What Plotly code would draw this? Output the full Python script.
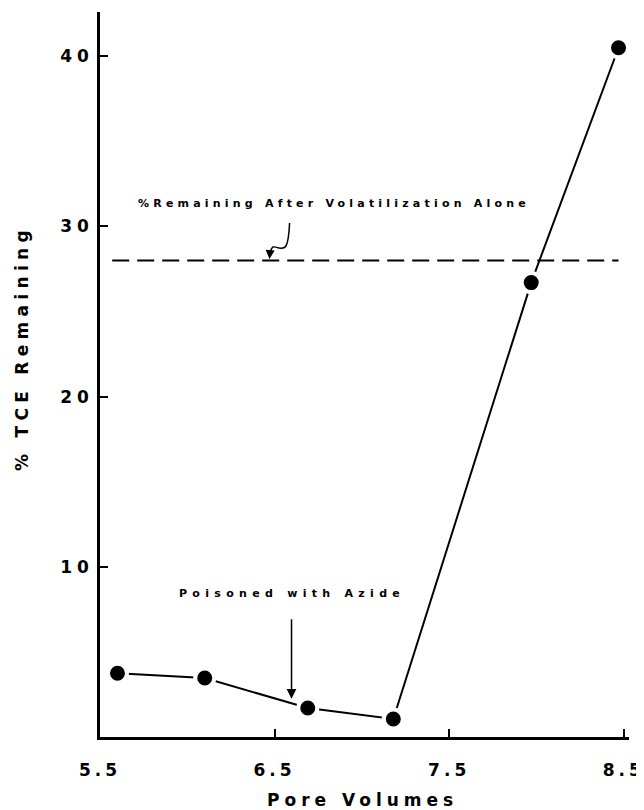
import plotly.graph_objects as go

# Data
pore_volumes = [5.6, 6.1, 6.69, 7.18, 7.97, 8.47]
tce_remaining = [3.75, 3.47, 1.7, 1.06, 26.7, 40.5]
volatilization_level = 28.0
volatilization_x = [5.57, 8.47]
x_ticks = [5.5, 6.5, 7.5, 8.5]
x_tick_labels = ["5.5", "6.5", "7.5", "8.5"]
y_ticks = [10, 20, 30, 40]
y_tick_labels = ["10", "20", "30", "40"]

FONT = "DejaVu Sans"


def spaced(s, px):
    return f'<span style="letter-spacing:{px}px">{s}</span>'


OFF = 8  # body margin of the page
W, H = 636, 802
L, R, T, B = 92, 15, 4, 73
PW, PH = W - L - R, H - T - B


def px_to_paper(px, py):
    return (px - OFF - L) / PW, (H - B - (py - OFF)) / PH


def label(px, py, text, size, angle=0):
    xp, yp = px_to_paper(px, py)
    fig.add_annotation(x=xp, y=yp, xref="paper", yref="paper", text=text,
                       xanchor="center", yanchor="middle", textangle=angle,
                       showarrow=False,
                       font=dict(family=FONT, size=size, color="black", weight="bold"))


fig = go.Figure()

fig.add_trace(go.Scatter(
    x=volatilization_x, y=[volatilization_level] * len(volatilization_x),
    mode="lines", line=dict(color="black", width=2, dash="17px,8px"),
    hoverinfo="skip", showlegend=False))

fig.add_trace(go.Scatter(
    x=pore_volumes, y=tce_remaining, mode="lines+markers",
    line=dict(color="black", width=2),
    marker=dict(size=19, color="black", line=dict(color="white", width=4)),
    showlegend=False))

# squiggle pointer to dashed line
fig.add_shape(type="path",
              path="M 6.586,30.2 C 6.583,29.6 6.580,29.1 6.565,28.85 C 6.55,28.6 6.52,28.75 6.50,28.8 "
                   "C 6.485,28.85 6.478,28.6 6.474,28.45",
              xref="x", yref="y", line=dict(color="black", width=1.5))
fig.add_annotation(x=6.471, y=28.08, ax=6.474, ay=28.55, xref="x", yref="y",
                   axref="x", ayref="y", showarrow=True, arrowhead=2,
                   arrowsize=1.2, arrowwidth=1.5, arrowcolor="black", text="")

label(334, 203, spaced("%Remaining After Volatilization Alone", 4.2), 11)

# Poisoned arrow
fig.add_annotation(x=6.597, y=2.25, ax=6.597, ay=7.0, xref="x", yref="y",
                   axref="x", ayref="y", showarrow=True, arrowhead=2,
                   arrowsize=1.3, arrowwidth=1.5, arrowcolor="black", text="")
label(292, 593, spaced("Poisoned with Azide", 5.3), 11)

# axis titles
label(22, 348, spaced("% TCE Remaining", 5.3), 17, angle=-90)
label(362, 800, spaced("Pore Volumes", 5), 17)

fig.update_layout(
    width=W, height=H,
    margin=dict(l=L, r=R, t=T, b=B),
    paper_bgcolor="white", plot_bgcolor="white",
    xaxis=dict(range=[5.5, 8.53], tickvals=x_ticks,
               ticktext=[spaced(t, 4) for t in x_tick_labels],
               showline=True, linecolor="black", linewidth=2.5, ticks="inside",
               ticklen=8, tickwidth=2, tickcolor="black", showgrid=False, zeroline=False,
               ticklabelstandoff=16, automargin=False, ticklabeloverflow="allow",
               tickfont=dict(family=FONT, size=17, color="black", weight="bold")),
    yaxis=dict(range=[0, 42.6], tickvals=y_ticks,
               ticktext=[spaced(t, 5) for t in y_tick_labels],
               showline=True, linecolor="black", linewidth=2.5, ticks="inside",
               ticklen=8, tickwidth=2, tickcolor="black", showgrid=False, zeroline=False,
               ticklabelstandoff=0, automargin=False, ticklabeloverflow="allow",
               tickfont=dict(family=FONT, size=17, color="black", weight="bold")),
)

fig.write_html("out.html")
